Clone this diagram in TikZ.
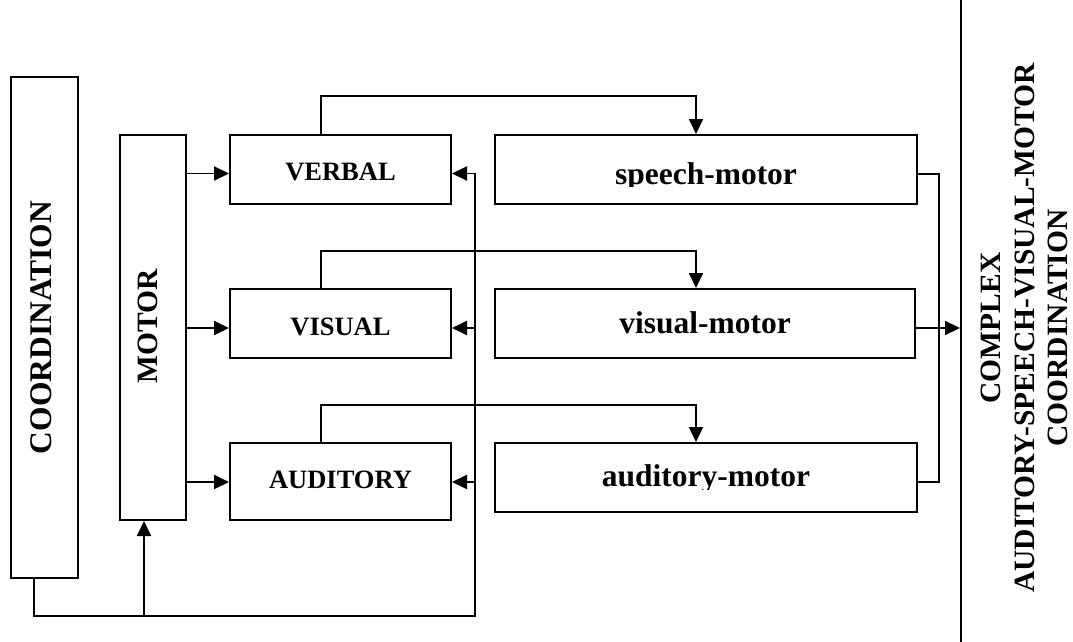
\documentclass[tikz,border=0pt]{standalone}
\usepackage{fontspec}
\setmainfont{Liberation Serif}
\usetikzlibrary{arrows.meta}
\begin{document}
\begin{tikzpicture}[x=1pt,y=-1pt,
  box/.style={draw, line width=2pt, inner sep=0pt, rectangle},
  conn/.style={line width=1.9pt},
  arr/.style={conn, -{Triangle[length=15pt,width=14pt]}},
  small/.style={font=\fontsize{26.5}{30}\selectfont\bfseries, inner sep=0pt, anchor=base},
  large/.style={font=\fontsize{31.5}{36}\selectfont\bfseries, inner sep=0pt, anchor=base},
  vert/.style={font=\bfseries, inner sep=0pt, rotate=90, align=center},
]
\useasboundingbox (0,0) rectangle (1073,642);
\clip (0,0) rectangle (1073,642);

% outer blocks
\node[box, minimum width=67pt, minimum height=501pt] (coord) at (44.5,327.5) {};
\node[box, minimum width=66pt, minimum height=385pt] (motor) at (153,327.5) {};
\node[box, minimum width=126pt, minimum height=680pt] (complex) at (1024,328) {};

% modality blocks
\node[box, minimum width=221pt, minimum height=69pt] (verbal)   at (340.5,169.5) {};
\node[box, minimum width=221pt, minimum height=69pt] (visual)   at (340.5,323.5) {};
\node[box, minimum width=221pt, minimum height=77pt] (auditory) at (340.5,481.5) {};
\node[box, minimum width=422pt, minimum height=69pt] (speech)   at (706,169.5) {};
\node[box, minimum width=420pt, minimum height=69pt] (visualm)  at (705,323.5) {};
\node[box, minimum width=422pt, minimum height=69pt] (auditorym) at (706,477.5) {};

% labels
\node[vert, font=\fontsize{31.5}{36}\selectfont\bfseries] (tcoord) at (41.5,327.5) {COORDINATION};
\node[vert, font=\fontsize{29.5}{33}\selectfont\bfseries] (tmotor) at (148,326.5) {MOTOR};
\node[vert, font=\fontsize{29.5}{33.5}\selectfont\bfseries] (tcomplex) at (1024.5,328)
  {COMPLEX\\AUDITORY-SPEECH-VISUAL-MOTOR\\COORDINATION};

\node[small] (tverbal)   at (340.5,180) {VERBAL};
\node[small] (tvisual)   at (340.5,335) {VISUAL};
\node[small] (tauditory) at (340.5,488) {AUDITORY};

\coordinate (sc) at (0,186.5);
\coordinate (ac) at (0,489);
\begin{scope}
  \clip (speech.north west) rectangle (speech.east |- sc);
  \node[large] (tspeech) at (706,184) {speech-motor};
\end{scope}
\node[large] (tvisualm) at (705,333) {visual-motor};
\begin{scope}
  \clip (auditorym.north west) rectangle (auditorym.east |- ac);
  \node[large] (tauditorym) at (706,486) {auditory-motor};
\end{scope}

% reference rows and columns for the connectors
\coordinate (y1) at (0,173.5);
\coordinate (y2) at (0,328);
\coordinate (y3) at (0,482);
\coordinate (cbx) at (34,0);
\coordinate (fb) at (475,616);
\coordinate (mx) at (144,616);
\coordinate (lx) at (321,0);
\coordinate (rx) at (696,0);
\coordinate (t1) at (0,96);
\coordinate (t2) at (0,251);
\coordinate (t3) at (0,405);
\coordinate (jx) at (939,0);
\coordinate (sy) at (0,174);

% motor feeds the three modalities
\draw[arr] (motor.east |- y1) -- (verbal.west |- y1);
\draw[arr] (motor.east |- y2) -- (visual.west |- y2);
\draw[arr] (motor.east |- y3) -- (auditory.west |- y3);

% feedback loop from coordination
\draw[arr] (coord.south -| cbx) |- (fb) |- (verbal.east |- y1);
\draw[arr] (fb |- y2) -- (visual.east |- y2);
\draw[arr] (fb |- y3) -- (auditory.east |- y3);
\draw[arr] (mx) -- (motor.south -| mx);

% modality to motor pairing
\draw[arr] (verbal.north -| lx) |- (rx |- t1) -- (speech.north -| rx);
\draw[arr] (visual.north -| lx) |- (rx |- t2) -- (visualm.north -| rx);
\draw[arr] (auditory.north -| lx) |- (rx |- t3) -- (auditorym.north -| rx);

% merge into complex coordination
\draw[conn] (speech.east |- sy) -| (jx |- y3) -- (auditorym.east |- y3);
\draw[arr] (visualm.east |- y2) -- (complex.west |- y2);
\end{tikzpicture}
\end{document}
